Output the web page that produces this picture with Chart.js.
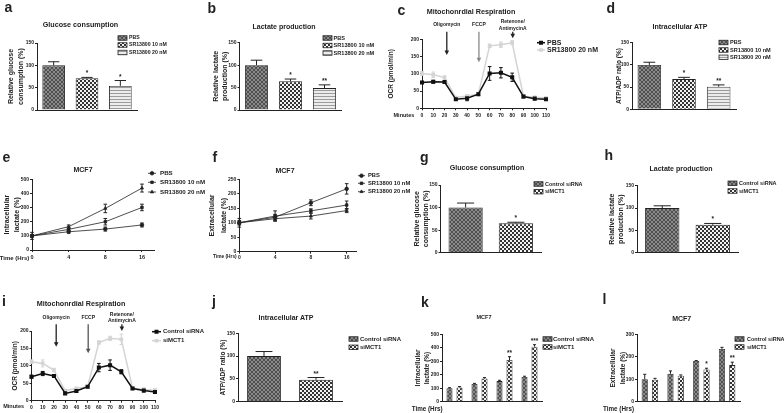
<!DOCTYPE html>
<html>
<head>
<meta charset="utf-8">
<title>SR13800 / MCT1 panels</title>
<script src="https://cdn.jsdelivr.net/npm/chart.js@4.4.1/dist/chart.umd.min.js"></script>
<style>
  body { margin: 0; width: 784px; height: 413px; position: relative; overflow: hidden; background: #fff;
         font-family: "Liberation Sans", Arial, sans-serif; }
  canvas { position: absolute; left: 0; top: 0; z-index: 1; }
  .txt { position: absolute; white-space: nowrap; font-weight: bold; color: #222; z-index: 2; }
</style>
</head>
<body>
<canvas id="chartA" width="784" height="413"></canvas>
<canvas id="chartB" width="784" height="413"></canvas>
<canvas id="chartC" width="784" height="413"></canvas>
<canvas id="chartD" width="784" height="413"></canvas>
<canvas id="chartE" width="784" height="413"></canvas>
<canvas id="chartF" width="784" height="413"></canvas>
<canvas id="chartG" width="784" height="413"></canvas>
<canvas id="chartH" width="784" height="413"></canvas>
<canvas id="chartI" width="784" height="413"></canvas>
<canvas id="chartJ" width="784" height="413"></canvas>
<canvas id="chartK" width="784" height="413"></canvas>
<canvas id="chartL" width="784" height="413"></canvas>
<script>
// ---------- data ----------
const treatments = ["PBS", "SR13800 10 nM", "SR13800 20 nM"];
const glucoseSR = [100, 71, 54];
const glucoseSRErr = [8, 2, 12];
const glucoseSRStars = ["", "*", "*"];
const lactateSR = [100, 64, 49];
const lactateSRErr = [11, 5, 7];
const lactateSRStars = ["", "*", "**"];
const atpSR = [100, 68, 51];
const atpSRErr = [6, 4, 4];
const atpSRStars = ["", "*", "**"];

const minutes = [0, 10, 20, 30, 40, 50, 60, 70, 80, 90, 100, 110];
const ocrPBS = [75, 77, 76, 26, 29, 41, 101, 103, 90, 34, 28, 26];
const ocrPBSErr = [3, 4, 3, 2, 7, 4, 20, 15, 12, 4, 3, 2];
const ocrSR20 = [101, 97, 89, 31, 36, 41, 181, 184, 190, 35, 32, 30];
const ocrSR20Err = [6, 8, 5, 3, 4, 4, 5, 8, 6, 3, 3, 3];
const ocrControl = [69, 78, 71, 21, 28, 40, 95, 102, 83, 35, 29, 25];
const ocrControlErr = [4, 6, 3, 3, 4, 3, 12, 15, 6, 3, 4, 4];
const ocrSiMCT1 = [112, 107, 88, 29, 35, 40, 167, 179, 176, 36, 32, 30];
const ocrSiMCT1Err = [5, 10, 5, 3, 4, 3, 5, 6, 15, 3, 5, 4];
const injectionNames = [["Oligomycin"], ["FCCP"], ["Retenone/", "AntimycinA"]];
const injectionTimes = [22, 50.5, 80.5];

const hours = ["0", "4", "8", "16"];
const intraPBS = [100, 129, 148, 177];
const intraPBSErr = [8, 10, 14, 14];
const intraSR10 = [100, 146, 200, 301];
const intraSR10Err = [8, 10, 23, 23];
const intraSR20 = [100, 165, 294, 438];
const intraSR20Err = [25, 12, 30, 28];
const extraPBS = [100, 119, 169, 217];
const extraPBSErr = [15, 10, 10, 18];
const extraSR10 = [100, 123, 141, 161];
const extraSR10Err = [8, 18, 7, 14];
const extraSR20 = [100, 114, 123, 142];
const extraSR20Err = [5, 6, 10, 7];

const sirna = ["Control siRNA", "siMCT1"];
const glucoseSi = [100, 65];
const glucoseSiErr = [10, 2.5];
const glucoseSiStars = ["", "*"];
const lactateSi = [100, 62.5];
const lactateSiErr = [5, 3];
const lactateSiStars = ["", "*"];
const atpSi = [100, 48];
const atpSiErr = [10, 5];
const atpSiStars = ["", "**"];
const intraControl = [99, 131, 153, 183];
const intraControlErr = [5, 5, 6, 6];
const intraSiMCT1 = [106, 172, 309, 408];
const intraSiMCT1Err = [6, 7, 25, 15];
const intraSiStars = ["", "", "**", "***"];
const extraControl = [100, 124, 181, 235];
const extraControlErr = [22, 13, 2, 7];
const extraSiMCT1 = [98, 116, 143, 163];
const extraSiMCT1Err = [6, 3, 6, 13];
const extraSiStars = ["", "", "*", "**"];

// ---------- defaults ----------
const FONT = '"Liberation Sans", Arial, sans-serif';
Chart.defaults.animation = false;
Chart.defaults.responsive = false;
Chart.defaults.devicePixelRatio = 1;
Chart.defaults.events = [];
Chart.defaults.font.family = FONT;
Chart.defaults.font.weight = "bold";
Chart.defaults.color = "#222";
Chart.defaults.plugins.legend.display = false;
Chart.defaults.plugins.tooltip.enabled = false;

// fill patterns of the bars
function tile(w, h, paint) {
  const c = document.createElement("canvas");
  c.width = w; c.height = h;
  const g = c.getContext("2d");
  paint(g);
  return g.createPattern(c, "repeat");
}
const meshFill = tile(4, 4, g => {
  g.fillStyle = "#8a8a8a"; g.fillRect(0, 0, 4, 4);
  g.fillStyle = "#505050";
  [[0, 0], [1, 1], [2, 2], [3, 3], [3, 0], [2, 1], [1, 2], [0, 3]].forEach(p => g.fillRect(p[0], p[1], 1, 1));
});
const checkFill = tile(4, 4, g => {
  g.fillStyle = "#f2f2f2"; g.fillRect(0, 0, 4, 4);
  g.fillStyle = "#333"; g.fillRect(0, 0, 2, 2); g.fillRect(2, 2, 2, 2);
});
const stripeFill = tile(1, 3, g => {
  g.fillStyle = "#ececec"; g.fillRect(0, 0, 1, 3);
  g.fillStyle = "#9c9c9c"; g.fillRect(0, 0, 1, 1);
});

// error bars, stars, legends and injection arrows
const extras = {
  id: "extras",
  beforeDatasetsDraw(chart) {
    const ctx = chart.ctx, ys = chart.scales.y, isBar = chart.config.type === "bar";
    chart.data.datasets.forEach((ds, i) => {
      if (!ds.err) return;
      const meta = chart.getDatasetMeta(i);
      ctx.save();
      ctx.strokeStyle = ds.errColor || "#222";
      ctx.lineWidth = 1;
      meta.data.forEach((el, j) => {
        const raw = ds.data[j];
        const v = typeof raw === "object" ? raw.y : raw;
        const top = ys.getPixelForValue(v + ds.err[j]);
        const bot = isBar ? el.y : ys.getPixelForValue(v - ds.err[j]);
        const cap = isBar ? el.width * 0.25 : 1.8;
        ctx.beginPath();
        ctx.moveTo(el.x, bot); ctx.lineTo(el.x, top);
        ctx.moveTo(el.x - cap, top); ctx.lineTo(el.x + cap, top);
        if (!isBar) { ctx.moveTo(el.x - cap, bot); ctx.lineTo(el.x + cap, bot); }
        ctx.stroke();
      });
      ctx.restore();
    });
  },
  afterDatasetsDraw(chart) {
    const ctx = chart.ctx, ys = chart.scales.y;
    chart.data.datasets.forEach((ds, i) => {
      if (!ds.stars) return;
      const meta = chart.getDatasetMeta(i);
      ctx.save();
      ctx.font = "bold 6.5px " + FONT;
      ctx.textAlign = "center";
      ctx.textBaseline = "alphabetic";
      ctx.fillStyle = "#222";
      meta.data.forEach((el, j) => {
        if (!ds.stars[j]) return;
        const top = ys.getPixelForValue(ds.data[j] + ds.err[j]);
        ctx.fillText(ds.stars[j], el.x, top - 2);
      });
      ctx.restore();
    });
  },
  afterDraw(chart, args, o) {
    const ctx = chart.ctx;
    const lg = o.legend;
    if (lg) {
      ctx.save();
      ctx.font = "bold " + lg.size + "px " + FONT;
      ctx.textBaseline = "middle";
      let items;
      if (lg.fromLabels) {
        const ds = chart.data.datasets[0];
        items = chart.data.labels.map((l, i) => ({text: l, fill: ds.backgroundColor[i]}));
      } else {
        items = chart.data.datasets.map(ds => ({text: ds.label, fill: ds.backgroundColor, ds: ds}));
      }
      items.forEach((it, i) => {
        const y = lg.ys[i];
        if (lg.kind === "box") {
          ctx.fillStyle = it.fill;
          ctx.fillRect(lg.x, y - 2.25, 9, 4.5);
          ctx.strokeStyle = "#222"; ctx.lineWidth = 0.8;
          ctx.strokeRect(lg.x, y - 2.25, 9, 4.5);
        } else {
          const ds = it.ds;
          ctx.strokeStyle = ds.borderColor; ctx.lineWidth = ds.borderWidth;
          ctx.beginPath(); ctx.moveTo(lg.x, y); ctx.lineTo(lg.x + lg.w, y); ctx.stroke();
          ctx.fillStyle = ds.pointBackgroundColor; ctx.strokeStyle = ds.pointBorderColor;
          Chart.helpers.drawPoint(ctx, {pointStyle: ds.pointStyle, radius: ds.pointRadius, borderWidth: 1, rotation: 0},
            lg.x + lg.w / 2, y);
        }
        ctx.fillStyle = "#222";
        ctx.fillText(it.text, lg.textX, y);
      });
      ctx.restore();
    }
    (o.arrows || []).forEach(a => {
      const x = chart.scales.x.getPixelForValue(a.t);
      ctx.save();
      ctx.strokeStyle = a.color; ctx.fillStyle = a.color; ctx.lineWidth = 1.3;
      ctx.beginPath(); ctx.moveTo(x, a.y0); ctx.lineTo(x, a.y1 - 3.5); ctx.stroke();
      ctx.beginPath(); ctx.moveTo(x - 2.3, a.y1 - 4.5); ctx.lineTo(x + 2.3, a.y1 - 4.5); ctx.lineTo(x, a.y1);
      ctx.closePath(); ctx.fill();
      ctx.fillStyle = "#222";
      ctx.font = "bold 5px " + FONT;
      ctx.textAlign = "center"; ctx.textBaseline = "middle";
      a.label.forEach((s, k) => ctx.fillText(s, x, a.ly + k * 6.5));
      ctx.restore();
    });
  }
};
Chart.register(extras);

// ---------- builders ----------
// p.area = [left, right, top, bottom] of the plot, p.yt = [first title line centre, line spacing, size]
function panel(id, type, data, p) {
  const lh = p.yt[1];
  const padLeft = p.yt[0] - lh / 2;
  const x = Object.assign({
    border: {color: "#222"},
    afterFit: s => { s.height = p.xh; }
  }, p.x);
  return new Chart(document.getElementById(id), {
    type: type,
    data: data,
    options: {
      layout: {padding: {left: padLeft, top: p.area[2], right: 784 - p.area[1], bottom: 413 - p.area[3] - p.xh}},
      scales: {
        x: x,
        y: {
          min: 0, max: p.max,
          ticks: {stepSize: p.step, font: {size: 5}, padding: 1},
          grid: {drawOnChartArea: false, tickLength: 2, color: "#222"},
          border: {color: "#222"},
          title: {display: true, text: p.title, padding: 0,
                  font: {size: p.yt[2], lineHeight: lh / p.yt[2]}},
          afterFit: s => { s.width = p.area[0] - padLeft; }
        }
      },
      plugins: {extras: {legend: p.legend, arrows: p.arrows}}
    }
  });
}

const barX = {offset: true, grid: {display: false}, ticks: {display: false}};
function groupX(size, pad) {
  return {offset: true, grid: {display: false}, ticks: {font: {size: size}, padding: pad}};
}
function timeX(max, size, pad) {
  return {type: "linear", min: 0, max: max,
    grid: {drawOnChartArea: false, tickLength: 2, color: "#222"},
    ticks: {stepSize: 1, includeBounds: false, autoSkip: false, maxRotation: 0, font: {size: size}, padding: pad,
            callback: v => hours[v]}};
}
const minuteX = {type: "linear", min: 0, max: 110,
  grid: {drawOnChartArea: false, tickLength: 2, color: "#222"},
  ticks: {stepSize: 10, includeBounds: false, autoSkip: false, maxRotation: 0, font: {size: 5}, padding: 2}};

function singleBars(labels, values, errs, stars, fills, pct) {
  return {labels: labels, datasets: [{data: values, err: errs, stars: stars, backgroundColor: fills,
    borderColor: "#222", borderWidth: 0.9, barPercentage: pct, categoryPercentage: 1}]};
}
function pairBars(labels, a, aErr, b, bErr, bStars) {
  return {labels: labels, datasets: [
    {label: sirna[0], data: a, err: aErr, backgroundColor: meshFill, borderColor: "#222", borderWidth: 0.8,
     barPercentage: 0.6, categoryPercentage: 0.8},
    {label: sirna[1], data: b, err: bErr, stars: bStars, backgroundColor: checkFill, borderColor: "#222", borderWidth: 0.8,
     barPercentage: 0.6, categoryPercentage: 0.8}
  ]};
}
function xy(xs, ys) { return ys.map((v, i) => ({x: xs[i], y: v})); }
function seahorse(style, label, xs, ys, errs, color, radius) {
  return {label: label, data: xy(xs, ys), err: errs, errColor: color, borderColor: color, borderWidth: 1.5,
    pointStyle: style, pointRadius: radius, pointBackgroundColor: color, pointBorderColor: color, clip: false};
}
function timeLine(style, label, ys, errs) {
  return {label: label, data: xy(hours.map((h, i) => i), ys), err: errs, borderColor: "#222", borderWidth: 0.8,
    pointStyle: style, pointRadius: 1.8, pointBackgroundColor: "#222", pointBorderColor: "#222", clip: false};
}
function arrows(ys, y0, tips, colors) {
  return injectionTimes.map((t, k) => ({t: t, label: injectionNames[k], ly: ys[k], y0: y0, y1: tips[k], color: colors[k]}));
}
const srFills = [meshFill, checkFill, stripeFill];
const siFills = [meshFill, checkFill];

// ---------- panels ----------
panel("chartA", "bar", singleBars(treatments, glucoseSR, glucoseSRErr, glucoseSRStars, srFills, 0.68), {
  area: [37, 137, 43, 110], xh: 4, max: 150, step: 50, x: barX,
  yt: [11, 10, 7], title: ["Relative glucose", "consumption (%)"],
  legend: {kind: "box", fromLabels: true, x: 118, textX: 129, ys: [38, 45, 52.5], size: 5.2}
});
panel("chartB", "bar", singleBars(treatments, lactateSR, lactateSRErr, lactateSRStars, srFills, 0.68), {
  area: [239.5, 341.5, 42.7, 110], xh: 4, max: 150, step: 50, x: barX,
  yt: [215.8, 9.7, 7], title: ["Relative lactate", "production (%)"],
  legend: {kind: "box", fromLabels: true, x: 323, textX: 333.5, ys: [38, 45.5, 53], size: 5.6}
});
panel("chartC", "line", {datasets: [
  seahorse("rect", "PBS", minutes, ocrPBS, ocrPBSErr, "#111", 1.8),
  seahorse("rect", "SR13800 20 nM", minutes, ocrSR20, ocrSR20Err, "#d4d4d4", 1.5)
]}, {
  area: [422, 546, 39.3, 108.3], xh: 12, max: 200, step: 50, x: minuteX,
  yt: [391, 7.8, 6.5], title: "OCR (pmol/min)",
  legend: {kind: "line", x: 537, w: 8, textX: 547, ys: [42.7, 50], size: 7},
  arrows: arrows([25, 25, 21.7], 31.7, [55, 62.3, 38.3], ["#222", "#888", "#222"])
});
panel("chartD", "bar", singleBars(treatments, atpSR, atpSRErr, atpSRStars, srFills, 0.68), {
  area: [632, 736, 42.7, 109.3], xh: 4, max: 150, step: 50, x: barX,
  yt: [619, 7.8, 6.5], title: "ATP/ADP ratio (%)",
  legend: {kind: "box", fromLabels: true, x: 719, textX: 730, ys: [42.5, 50, 57.3], size: 5.6}
});
panel("chartE", "line", {datasets: [
  timeLine("circle", treatments[0], intraPBS, intraPBSErr),
  timeLine("rect", treatments[1], intraSR10, intraSR10Err),
  timeLine("triangle", treatments[2], intraSR20, intraSR20Err)
]}, {
  area: [32, 154.8, 179.3, 250], xh: 14, max: 500, step: 100, x: timeX(3.35, 5.5, 2.5),
  yt: [7.5, 9.2, 7], title: ["Intracellular", "lactate (%)"],
  legend: {kind: "line", x: 148, w: 8, textX: 160, ys: [173.3, 182.3, 192], size: 6.2}
});
panel("chartF", "line", {datasets: [
  timeLine("circle", treatments[0], extraPBS, extraPBSErr),
  timeLine("rect", treatments[1], extraSR10, extraSR10Err),
  timeLine("triangle", treatments[2], extraSR20, extraSR20Err)
]}, {
  area: [239.3, 356.7, 179.3, 251.7], xh: 12, max: 250, step: 50, x: timeX(3.28, 5, 1),
  yt: [212.5, 11.2, 7], title: ["Extracellular", "lactate (%)"],
  legend: {kind: "line", x: 358, w: 7, textX: 368, ys: [175.7, 183.3, 191.7], size: 5.8}
});
panel("chartG", "bar", singleBars(sirna, glucoseSi, glucoseSiErr, glucoseSiStars, siFills, 0.68), {
  area: [440.5, 541, 185, 252.7], xh: 4, max: 150, step: 50, x: barX,
  yt: [417, 9.5, 7], title: ["Relative glucose", "consumption (%)"],
  legend: {kind: "box", fromLabels: true, x: 534, textX: 545, ys: [184, 191.7], size: 5.5}
});
panel("chartH", "bar", singleBars(sirna, lactateSi, lactateSiErr, lactateSiStars, siFills, 0.68), {
  area: [637, 738, 185.7, 252.7], xh: 4, max: 150, step: 50, x: barX,
  yt: [612.2, 9.3, 7], title: ["Relative lactate", "production (%)"],
  legend: {kind: "box", fromLabels: true, x: 728, textX: 739, ys: [183.3, 191], size: 5.5}
});
panel("chartI", "line", {datasets: [
  seahorse("rect", sirna[0], minutes, ocrControl, ocrControlErr, "#111", 1.8),
  seahorse("rect", sirna[1], minutes, ocrSiMCT1, ocrSiMCT1Err, "#d4d4d4", 1.5)
]}, {
  area: [31.5, 155, 331, 400.7], xh: 11, max: 200, step: 50, x: minuteX,
  yt: [15.3, 7.8, 6.5], title: "OCR (pmol/min)",
  legend: {kind: "line", x: 152, w: 9, textX: 163, ys: [331.7, 340.7], size: 6},
  arrows: arrows([317.7, 317.7, 314.3], 324.3, [346.7, 353.3, 331], ["#222", "#555", "#222"])
});
panel("chartJ", "bar", singleBars(sirna, atpSi, atpSiErr, atpSiStars, siFills, 0.65), {
  area: [238, 342, 333.3, 401.7], xh: 4, max: 150, step: 50, x: barX,
  yt: [223.3, 7.8, 6.5], title: "ATP/ADP ratio (%)",
  legend: {kind: "box", fromLabels: true, x: 349, textX: 360, ys: [339, 347.3], size: 6}
});
panel("chartK", "bar", pairBars(hours, intraControl, intraControlErr, intraSiMCT1, intraSiMCT1Err, intraSiStars), {
  area: [442, 542, 334.3, 401.7], xh: 11, max: 500, step: 100, x: groupX(6.5, 3.5),
  yt: [418.2, 9.3, 6.5], title: ["Intracellular", "lactate (%)"],
  legend: {kind: "box", x: 543, textX: 553, ys: [339, 347], size: 6}
});
panel("chartL", "bar", pairBars(hours, extraControl, extraControlErr, extraSiMCT1, extraSiMCT1Err, extraSiStars), {
  area: [637, 740, 334.3, 401.7], xh: 11, max: 300, step: 100, x: groupX(6.5, 3.5),
  yt: [613.7, 9.6, 6.5], title: ["Extracellular", "lactate (%)"],
  legend: {kind: "box", x: 735, textX: 747, ys: [339, 347], size: 5.5}
});

// ---------- panel letters, titles, axis names ----------
function putText(text, x, y, size, align) {
  const d = document.createElement("div");
  d.className = "txt";
  d.textContent = text;
  d.style.fontSize = size + "px";
  d.style.lineHeight = size + "px";
  d.style.left = x + "px";
  d.style.top = (y - size / 2) + "px";
  d.style.transform = "translateX(" + (align === "center" ? "-50%" : align === "right" ? "-100%" : "0") + ")";
  document.body.appendChild(d);
}
[["a", 4.5, 11.7], ["b", 207.5, 12.3], ["c", 397.5, 14.8], ["d", 606.5, 12.7],
 ["e", 2.5, 161.7], ["f", 212.5, 161.7], ["g", 420, 161], ["h", 604.5, 159.3],
 ["i", 2, 305], ["j", 212, 305], ["k", 421, 306], ["l", 602.5, 303.3]]
  .forEach(l => putText(l[0], l[1], l[2] - 4.5, 14, "left"));

putText("Glucose consumption", 80.5, 25, 7.2, "center");
putText("Lactate production", 284, 26, 7, "center");
putText("Mitochonrdial Respiration", 471, 11.7, 7.2, "center");
putText("Intracellular ATP", 680, 26, 7, "center");
putText("MCF7", 83, 169.3, 7, "center");
putText("MCF7", 285, 170, 7, "center");
putText("Glucose consumption", 487, 168.3, 7.1, "center");
putText("Lactate production", 681, 168.3, 7, "center");
putText("Mitochonrdial Respiration", 81, 303.3, 7.2, "center");
putText("Intracellular ATP", 286, 317.7, 7, "center");
putText("MCF7", 484, 317.7, 5.5, "center");
putText("MCF7", 681.7, 318.3, 7, "center");

putText("Minutes", 414.3, 115.3, 5.5, "right");
putText("Time (Hrs)", 29.3, 258.3, 6, "right");
putText("Time (Hrs)", 236.7, 257.7, 4.8, "right");
putText("Minutes", 24, 406.7, 5.5, "right");
putText("Time (Hrs)", 442.7, 409.3, 6.3, "right");
putText("Time (Hrs)", 634, 409.3, 6.3, "right");
</script>
</body>
</html>
